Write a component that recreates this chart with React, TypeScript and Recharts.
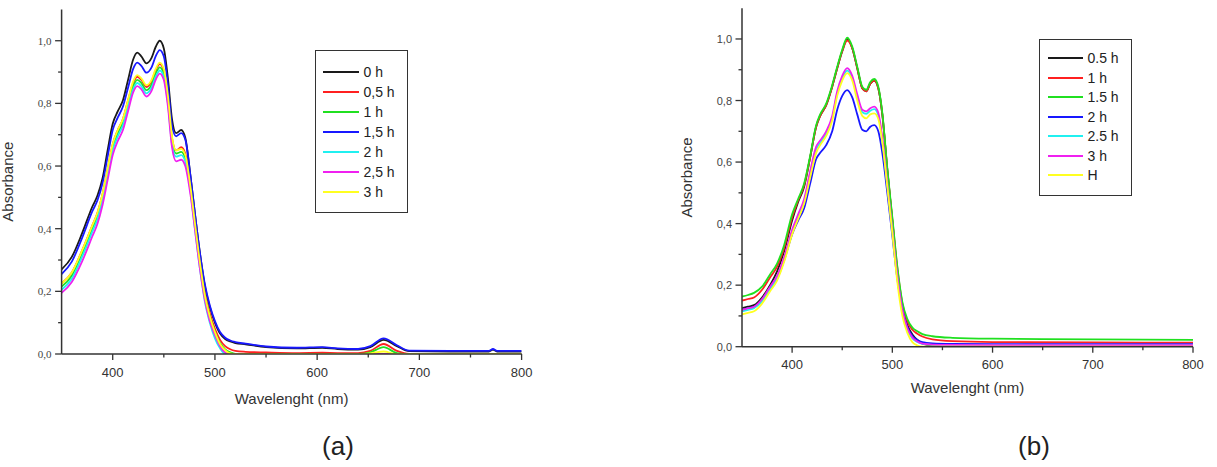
import { Label, Legend, Line, LineChart, XAxis, YAxis } from "recharts";

// ---- chart (a) ----
const wlA = [
  350, 360, 370, 380, 385, 390, 395, 400, 405, 410, 415, 420, 424, 428, 433, 438, 442, 446, 450, 454,
  458, 462, 467, 471, 476, 480, 485, 490, 495, 500, 505, 510, 515, 520, 530, 550, 580, 605, 620, 640,
  652, 665, 678, 690, 730, 768, 772, 776, 800,
];
const a0h = [
  0.27, 0.31, 0.385, 0.47, 0.505, 0.56, 0.65, 0.735, 0.775, 0.81, 0.875, 0.94, 0.962, 0.95, 0.928, 0.945, 0.98, 1.0, 0.975, 0.88,
  0.75, 0.705, 0.715, 0.69, 0.57, 0.46, 0.33, 0.22, 0.15, 0.1, 0.065, 0.048, 0.04, 0.035, 0.031, 0.022, 0.018, 0.02, 0.016, 0.014,
  0.022, 0.045, 0.025, 0.009, 0.008, 0.008, 0.014, 0.008, 0.008,
];
const a05h = [
  0.225, 0.26, 0.33, 0.41, 0.45, 0.51, 0.59, 0.67, 0.715, 0.75, 0.81, 0.865, 0.885, 0.875, 0.852, 0.87, 0.905, 0.925, 0.905, 0.82,
  0.69, 0.65, 0.66, 0.64, 0.54, 0.44, 0.31, 0.2, 0.13, 0.08, 0.045, 0.025, 0.015, 0.01, 0.007, 0.005, 0.003, 0.004, 0.003, 0.003,
  0.01, 0.032, 0.01, 0.0, 0.0, 0.0, 0.0, 0.0, 0.0,
];
const a1h = [
  0.215, 0.25, 0.32, 0.4, 0.44, 0.5, 0.58, 0.66, 0.705, 0.74, 0.8, 0.855, 0.875, 0.865, 0.842, 0.86, 0.895, 0.915, 0.895, 0.81,
  0.68, 0.64, 0.645, 0.625, 0.53, 0.43, 0.3, 0.19, 0.12, 0.07, 0.035, 0.015, 0.005, 0.0, 0.0, 0.0, 0.0, 0.0, 0.0, 0.0,
  0.005, 0.022, 0.003, 0.0, 0.0, 0.0, 0.0, 0.0, 0.0,
];
const a15h = [
  0.255, 0.295, 0.37, 0.455, 0.49, 0.545, 0.63, 0.715, 0.755, 0.79, 0.85, 0.91, 0.93, 0.92, 0.898, 0.915, 0.95, 0.97, 0.95, 0.86,
  0.73, 0.695, 0.705, 0.685, 0.57, 0.46, 0.33, 0.225, 0.155, 0.105, 0.07, 0.052, 0.043, 0.038, 0.033, 0.024, 0.02, 0.022, 0.018, 0.016,
  0.025, 0.05, 0.028, 0.011, 0.01, 0.01, 0.016, 0.01, 0.01,
];
const a2h = [
  0.205, 0.24, 0.31, 0.39, 0.43, 0.49, 0.57, 0.65, 0.695, 0.73, 0.79, 0.845, 0.865, 0.855, 0.832, 0.85, 0.885, 0.905, 0.885, 0.8,
  0.67, 0.63, 0.635, 0.615, 0.52, 0.41, 0.28, 0.17, 0.1, 0.05, 0.018, 0.0, 0.0, 0.0, 0.0, 0.0, 0.0, 0.0, 0.0, 0.0,
  0.0, 0.0, 0.0, 0.0, 0.0, 0.0, 0.0, 0.0, 0.0,
];
const a25h = [
  0.195, 0.23, 0.295, 0.375, 0.415, 0.475, 0.555, 0.635, 0.68, 0.715, 0.775, 0.835, 0.855, 0.845, 0.822, 0.84, 0.875, 0.895, 0.875, 0.79,
  0.66, 0.615, 0.62, 0.6, 0.51, 0.41, 0.28, 0.175, 0.105, 0.06, 0.025, 0.005, 0.0, 0.0, 0.0, 0.0, 0.0, 0.0, 0.0, 0.0,
  0.0, 0.0, 0.0, 0.0, 0.0, 0.0, 0.0, 0.0, 0.0,
];
const a3h = [
  0.225, 0.26, 0.33, 0.41, 0.45, 0.51, 0.59, 0.67, 0.715, 0.75, 0.81, 0.87, 0.89, 0.88, 0.858, 0.875, 0.91, 0.93, 0.91, 0.825,
  0.695, 0.65, 0.655, 0.635, 0.535, 0.43, 0.3, 0.19, 0.12, 0.07, 0.032, 0.012, 0.002, 0.0, 0.0, 0.0, 0.0, 0.0, 0.0, 0.0,
  0.002, 0.008, 0.0, 0.0, 0.0, 0.0, 0.0, 0.0, 0.0,
];

// ---- chart (b) ----
const wlB = [
  350, 356, 362, 370, 378, 385, 392, 400, 406, 412, 418, 424, 428, 434, 440, 445, 450, 455, 460, 465,
  470, 474, 478, 482, 486, 490, 495, 500, 505, 510, 515, 520, 525, 530, 540, 560, 600, 700, 800,
];
const b05h = [
  0.125, 0.13, 0.135, 0.16, 0.2, 0.245, 0.31, 0.41, 0.47, 0.52, 0.615, 0.715, 0.75, 0.785, 0.845, 0.905, 0.96, 1.0, 0.97, 0.905,
  0.84, 0.83, 0.855, 0.865, 0.84, 0.755, 0.575, 0.41, 0.245, 0.13, 0.07, 0.04, 0.022, 0.01, 0.004, 0.002, 0.002, 0.002, 0.002,
];
const b1h = [
  0.15, 0.155, 0.16, 0.185, 0.225, 0.26, 0.32, 0.42, 0.475, 0.525, 0.615, 0.715, 0.75, 0.785, 0.845, 0.905, 0.96, 0.995, 0.97, 0.905,
  0.84, 0.83, 0.855, 0.865, 0.84, 0.755, 0.575, 0.415, 0.255, 0.14, 0.082, 0.055, 0.042, 0.033, 0.024, 0.018, 0.015, 0.014, 0.013,
];
const b15h = [
  0.163, 0.168, 0.175, 0.195, 0.235, 0.27, 0.33, 0.43, 0.48, 0.53, 0.62, 0.72, 0.755, 0.79, 0.85, 0.91, 0.965, 1.004, 0.975, 0.91,
  0.845, 0.835, 0.86, 0.87, 0.845, 0.76, 0.58, 0.42, 0.26, 0.145, 0.09, 0.062, 0.05, 0.041, 0.034, 0.029, 0.026, 0.024, 0.022,
];
const b2h = [
  0.12, 0.125, 0.13, 0.15, 0.19, 0.22, 0.28, 0.365, 0.41, 0.45, 0.53, 0.61, 0.63, 0.655, 0.7, 0.77, 0.815, 0.834, 0.81, 0.755,
  0.705, 0.7, 0.715, 0.72, 0.7, 0.63, 0.5, 0.36, 0.22, 0.12, 0.065, 0.035, 0.022, 0.015, 0.011, 0.009, 0.008, 0.008, 0.008,
];
const b25h = [
  0.115, 0.12, 0.125, 0.148, 0.188, 0.222, 0.282, 0.372, 0.422, 0.472, 0.562, 0.642, 0.662, 0.692, 0.742, 0.822, 0.872, 0.897, 0.872, 0.812,
  0.762, 0.757, 0.767, 0.772, 0.752, 0.672, 0.525, 0.375, 0.225, 0.115, 0.055, 0.027, 0.015, 0.009, 0.006, 0.005, 0.005, 0.005, 0.005,
];
const b3h = [
  0.12, 0.125, 0.13, 0.155, 0.195, 0.23, 0.29, 0.38, 0.43, 0.48, 0.57, 0.65, 0.67, 0.7, 0.75, 0.83, 0.88, 0.905, 0.88, 0.82,
  0.77, 0.765, 0.775, 0.78, 0.76, 0.68, 0.53, 0.38, 0.23, 0.12, 0.06, 0.03, 0.017, 0.01, 0.007, 0.006, 0.005, 0.005, 0.005,
];
const bH = [
  0.105, 0.11, 0.115, 0.14, 0.18, 0.215, 0.275, 0.365, 0.415, 0.465, 0.55, 0.63, 0.655, 0.685, 0.735, 0.815, 0.865, 0.889, 0.865, 0.8,
  0.75, 0.742, 0.755, 0.758, 0.74, 0.665, 0.52, 0.37, 0.21, 0.1, 0.045, 0.015, 0.004, 0.0, 0.0, 0.0, 0.0, 0.0, 0.0,
];

const colors = ["#1a1a1a", "#ff2020", "#20e020", "#1818ff", "#20f0f0", "#f020f0", "#ffff20"];
const namesA = ["0 h", "0,5 h", "1 h", "1,5 h", "2 h", "2,5 h", "3 h"];
const namesB = ["0.5 h", "1 h", "1.5 h", "2 h", "2.5 h", "3 h", "H"];
const seriesA = [a0h, a05h, a1h, a15h, a2h, a25h, a3h];
const seriesB = [b05h, b1h, b15h, b2h, b25h, b3h, bH];

const xTicks = [400, 450, 500, 550, 600, 650, 700, 750, 800];
const yTicks = [0, 0.1, 0.2, 0.3, 0.4, 0.5, 0.6, 0.7, 0.8, 0.9, 1.0];

const AXIS = "#333";
const SANS = "'Liberation Sans', Arial, sans-serif";
const SERIF = "'Liberation Serif', 'DejaVu Serif', serif";

function buildRows(wl: number[], series: number[][]) {
  return wl.map((w, i) => {
    const row: Record<string, number> = { wl: w };
    series.forEach((s, k) => (row["s" + k] = s[i]));
    return row;
  });
}

const XTick = (props: any) => {
  const { x, y, payload } = props;
  const major = payload.value % 100 === 0;
  return (
    <g>
      <line x1={x} x2={x} y1={y} y2={y + (major ? 6 : 3.5)} stroke={AXIS} strokeWidth={1.3} />
      {major && (
        <text x={x} y={y + 18} textAnchor="middle" dominantBaseline="central" fontSize={13} fontFamily={SANS} fill="#333">
          {payload.value}
        </text>
      )}
    </g>
  );
};

const makeYTick = (font: string, size: number) => (props: any) => {
  const { x, y, payload } = props;
  const major = Math.round(payload.value * 10) % 2 === 0;
  return (
    <g>
      <line x1={x} x2={x - (major ? 6.5 : 3.5)} y1={y} y2={y} stroke={AXIS} strokeWidth={1.3} />
      {major && (
        <text x={x - 10} y={y} textAnchor="end" dominantBaseline="central" fontSize={size} fontFamily={font} fill="#444">
          {payload.value.toFixed(1).replace(".", ",")}
        </text>
      )}
    </g>
  );
};

const yTitle = (dx: number) => (props: any) => {
  const { viewBox } = props;
  const cx = viewBox.x + dx;
  const cy = viewBox.y + viewBox.height / 2;
  return (
    <text x={cx} y={cy} transform={`rotate(-90 ${cx} ${cy})`} textAnchor="middle" dominantBaseline="central" fontSize={15} fontFamily={SANS} fill="#333">
      Absorbance
    </text>
  );
};

const makeLegend = (names: string[], w: number, h: number, padTop: number, step: number, padLeft: number, lineW: number) => () => (
  <div
    style={{
      width: w,
      height: h,
      boxSizing: "border-box",
      border: "1.5px solid #333",
      background: "#fff",
      paddingTop: padTop,
      paddingLeft: padLeft,
      fontFamily: SANS,
      fontSize: 14,
      color: "#222",
    }}
  >
    {names.map((n, i) => (
      <div key={n} style={{ height: step, display: "flex", alignItems: "center" }}>
        <span style={{ width: lineW, height: 2, background: colors[i], display: "inline-block" }} />
        <span style={{ marginLeft: 5, lineHeight: 1 }}>{n}</span>
      </div>
    ))}
  </div>
);

type PanelProps = {
  wl: number[];
  series: number[][];
  names: string[];
  width: number;
  margin: { top: number; right: number; bottom: number; left: number };
  yFont: string;
  ySize: number;
  xTitleOffset: number;
  yTitleDx: number;
  legend: { left: number; top: number; w: number; h: number; padTop: number; step: number; padLeft: number; lineW: number };
};

function Panel({ wl, series, names, width, margin, yFont, ySize, xTitleOffset, yTitleDx, legend }: PanelProps) {
  const rows = buildRows(wl, series);
  return (
    <LineChart width={width} height={420} data={rows} margin={margin}>
      <XAxis
        dataKey="wl"
        type="number"
        domain={[350, 800]}
        ticks={xTicks}
        interval={0}
        allowDataOverflow
        height={30}
        tickSize={0}
        tickMargin={0}
        tickLine={false}
        tick={XTick}
        axisLine={{ stroke: AXIS, strokeWidth: 1.5 }}
      >
        <Label
          value="Wavelenght (nm)"
          position="bottom"
          offset={xTitleOffset}
          style={{ fontSize: 15, fontFamily: SANS, fill: "#333" }}
        />
      </XAxis>
      <YAxis
        type="number"
        domain={[0, 1.1]}
        ticks={yTicks}
        interval={0}
        allowDataOverflow
        width={40}
        tickSize={0}
        tickMargin={0}
        tickLine={false}
        tick={makeYTick(yFont, ySize)}
        axisLine={{ stroke: AXIS, strokeWidth: 1.5 }}
      >
        <Label content={yTitle(yTitleDx)} />
      </YAxis>
      <Legend
        layout="vertical"
        align="center"
        verticalAlign="middle"
        content={makeLegend(names, legend.w, legend.h, legend.padTop, legend.step, legend.padLeft, legend.lineW)}
        wrapperStyle={{ left: legend.left, top: legend.top, width: legend.w, height: legend.h }}
      />
      {series.map((_, k) => (
        <Line
          key={k}
          type="monotone"
          dataKey={"s" + k}
          name={names[k]}
          stroke={colors[k]}
          strokeWidth={1.8}
          dot={false}
          isAnimationActive={false}
        />
      ))}
    </LineChart>
  );
}

export default function App() {
  return (
    <div style={{ position: "absolute", left: 0, top: 0, width: 1217, height: 467, background: "#fff", overflow: "hidden" }}>
      <div style={{ position: "absolute", left: 0, top: 0 }}>
        <Panel
          wl={wlA}
          series={seriesA}
          names={namesA}
          width={560}
          margin={{ top: 9.4, right: 38.4, bottom: 36, left: 21.6 }}
          yFont={SERIF}
          ySize={11}
          xTitleOffset={9}
          yTitleDx={-13.8}
          legend={{ left: 315, top: 50, w: 93, h: 163, padTop: 10.5, step: 20.07, padLeft: 6.5, lineW: 36 }}
        />
      </div>
      <div style={{ position: "absolute", left: 620, top: 0 }}>
        <Panel
          wl={wlB}
          series={seriesB}
          names={namesB}
          width={597}
          margin={{ top: 8.2, right: 24, bottom: 43.3, left: 82 }}
          yFont={SANS}
          ySize={11}
          xTitleOffset={6}
          yTitleDx={-15.5}
          legend={{ left: 419, top: 39, w: 93, h: 157, padTop: 8.5, step: 19.5, padLeft: 7.5, lineW: 35 }}
        />
      </div>
      <div style={{ position: "absolute", left: 338, top: 459, transform: "translate(-50%, -100%)", fontFamily: SANS, fontSize: 26, lineHeight: 1, color: "#222" }}>
        (a)
      </div>
      <div style={{ position: "absolute", left: 1034, top: 459, transform: "translate(-50%, -100%)", fontFamily: SANS, fontSize: 26, lineHeight: 1, color: "#222" }}>
        (b)
      </div>
    </div>
  );
}
